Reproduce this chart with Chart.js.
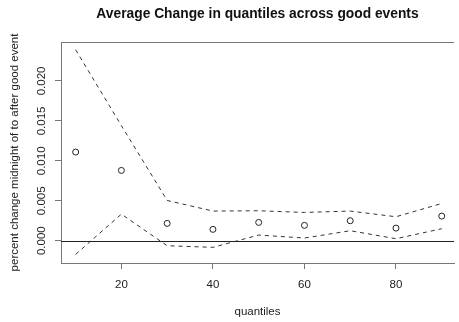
<!DOCTYPE html>
<html>
<head>
<meta charset="utf-8">
<script src="https://cdn.jsdelivr.net/npm/chart.js@4"></script>
<style>
  html, body { margin: 0; padding: 0; background: #fff; }
  #wrap { width: 459px; height: 322px; }
</style>
</head>
<body>
<div id="wrap"><canvas id="chart" width="459" height="322"></canvas></div>
<script>
// datos
const quantiles = [10, 20, 30, 40, 50, 60, 70, 80, 90];
const avgChange = [0.0111, 0.0088, 0.00217, 0.00142, 0.00229, 0.00192, 0.0025, 0.00158, 0.00308];
const upperBand = [0.0239, 0.0144, 0.00504, 0.00371, 0.00375, 0.00354, 0.00371, 0.0030, 0.00466];
const lowerBand = [-0.00171, 0.00333, -0.00063, -0.00083, 0.00071, 0.00033, 0.00125, 0.00025, 0.0015];
const xTicks = [20, 40, 60, 80];
const yTicks = [0, 0.005, 0.010, 0.015, 0.020];

const FONT = "'Liberation Sans', Arial, sans-serif";
const BASE = 11.5;

const toPoints = arr => arr.map((v, i) => ({ x: quantiles[i], y: v }));

// caja, línea en cero y etiquetas del eje y (giradas como en R)
const extras = {
    id: 'extras',
    afterDatasetsDraw(chart) {
        const { ctx, chartArea: a, scales: { y } } = chart;
        ctx.save();
        ctx.strokeStyle = '#222';
        ctx.lineWidth = 1;
        const y0 = Math.round(y.getPixelForValue(0)) + 0.5;
        ctx.beginPath();
        ctx.moveTo(a.left, y0);
        ctx.lineTo(a.right, y0);
        ctx.stroke();

        ctx.strokeStyle = '#777';
        ctx.beginPath();
        ctx.moveTo(a.left, Math.round(a.top) + 0.5);
        ctx.lineTo(a.right, Math.round(a.top) + 0.5);
        ctx.stroke();

        ctx.fillStyle = '#222';
        ctx.font = BASE + 'px ' + FONT;
        ctx.textAlign = 'center';
        ctx.textBaseline = 'middle';
        yTicks.forEach(v => {
            const py = y.getPixelForValue(v);
            ctx.save();
            ctx.translate(42, py);
            ctx.rotate(-Math.PI / 2);
            ctx.fillText(v.toFixed(3), 0, 0);
            ctx.restore();
        });
        ctx.restore();
    }
};

new Chart(document.getElementById('chart'), {
    type: 'line',
    data: {
        datasets: [
            {
                label: 'avg',
                data: toPoints(avgChange),
                showLine: false,
                pointStyle: 'circle',
                pointRadius: 3,
                pointBorderWidth: 1,
                pointBorderColor: '#222',
                pointBackgroundColor: 'rgba(0,0,0,0)'
            },
            {
                label: 'upper',
                data: toPoints(upperBand),
                borderColor: '#333',
                borderWidth: 1,
                borderDash: [4, 4],
                pointRadius: 0,
                tension: 0
            },
            {
                label: 'lower',
                data: toPoints(lowerBand),
                borderColor: '#333',
                borderWidth: 1,
                borderDash: [4, 4],
                pointRadius: 0,
                tension: 0
            }
        ]
    },
    options: {
        responsive: false,
        animation: false,
        layout: { padding: 0 },
        plugins: {
            legend: { display: false },
            tooltip: { enabled: false },
            title: {
                display: true,
                text: 'Average Change in quantiles across good events',
                fullSize: false,
                color: '#111',
                font: { family: FONT, size: 13.8, weight: 'bold' },
                padding: { top: 5.7, bottom: 19.74 }
            }
        },
        scales: {
            x: {
                type: 'linear',
                min: 6.8,
                max: 92.68,
                afterBuildTicks: s => { s.ticks = xTicks.map(v => ({ value: v })); },
                afterFit: s => { s.height = 59; },
                grid: { drawOnChartArea: false, drawTicks: true, tickLength: 6, color: '#777' },
                border: { display: true, color: '#777' },
                ticks: { color: '#222', padding: 9, maxRotation: 0, font: { family: FONT, size: BASE } },
                title: {
                    display: true,
                    text: 'quantiles',
                    color: '#222',
                    font: { family: FONT, size: BASE },
                    padding: { top: 0, bottom: 3.5 }
                }
            },
            y: {
                type: 'linear',
                min: -0.00279,
                max: 0.024875,
                afterBuildTicks: s => { s.ticks = yTicks.map(v => ({ value: v })); },
                afterFit: s => { s.width = 61; },
                grid: { drawOnChartArea: false, drawTicks: true, tickLength: 6, color: '#777' },
                border: { display: true, color: '#777' },
                ticks: { display: false },
                title: {
                    display: true,
                    text: 'percent change midnight of to after good event',
                    color: '#222',
                    font: { family: FONT, size: BASE },
                    padding: { top: 8, bottom: 0 }
                }
            }
        }
    },
    plugins: [extras]
});
</script>
</body>
</html>
